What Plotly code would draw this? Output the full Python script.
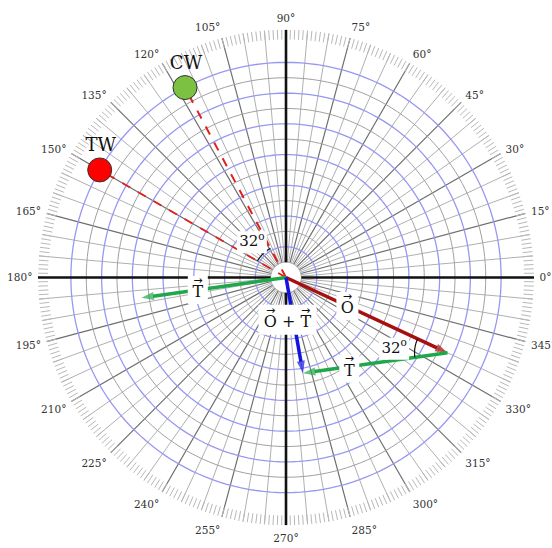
import numpy as np
import plotly.graph_objects as go

# ---------------- data ----------------
vector_names = ["O", "T"]
vector_r = [5.8, 4.75]          # lengths (grid units)
vector_theta = [335, 188]       # directions (degrees)
point_names = ["TW", "CW"]
point_r = [7.0, 7.0]
point_theta = [150, 118]
point_colors = ["#ff0000", "#7cc142"]
angle_text = "32<sup>o</sup>"
tick_angles = list(range(0, 360, 15))
tick_labels = [f"{a}°" for a in tick_angles]

# ---------------- geometry helpers ----------------
R_MAX = 8.07
PX = 248 / R_MAX  # pixels per unit (for label boxes)


def to_xy(r, th):
    t = np.deg2rad(th)
    return r * np.cos(t), r * np.sin(t)


def to_rt(x, y):
    return float(np.hypot(x, y)), float(np.rad2deg(np.arctan2(y, x)) % 360)


fig = go.Figure()


def add_lines(rs, ths, color, width, dash="solid"):
    fig.add_trace(go.Scatterpolar(r=rs, theta=ths, mode="lines",
                                  line=dict(color=color, width=width, dash=dash),
                                  hoverinfo="skip"))


# ---------------- grid ----------------
# minor radial lines every 5 deg
rs, ths = [], []
for a in range(0, 360, 5):
    if a % 15 == 0:
        continue
    rs += [0.5, R_MAX, None]
    ths += [a, a, None]
add_lines(rs, ths, "#b0b0b0", 1)
# major radial lines every 15 deg
rs, ths = [], []
for a in range(0, 360, 15):
    if a % 90 == 0:
        continue
    rs += [0.5, R_MAX, None]
    ths += [a, a, None]
add_lines(rs, ths, "#6e6e6e", 1.2)
# grey half circles
circ = list(range(0, 361, 2))
rs, ths = [], []
for k in np.arange(0.5, 7, 1.0):
    rs += [k] * len(circ) + [None]
    ths += circ + [None]
add_lines(rs, ths, "#a0a0a0", 1)
# blue unit circles
rs, ths = [], []
for k in range(1, 8):
    rs += [k] * len(circ) + [None]
    ths += circ + [None]
add_lines(rs, ths, "#9898f2", 1.3)
# 1-degree tick ring
rs, ths = [], []
for a in range(0, 360, 1):
    rs += [R_MAX - 10 / PX, R_MAX, None]
    ths += [a, a, None]
add_lines(rs, ths, "#b8b8b8", 1)
# black axes
rs, ths = [], []
for a in (0, 90, 180, 270):
    rs += [0.5, R_MAX, None]
    ths += [a, a, None]
add_lines(rs, ths, "#111111", 2.6)

# ---------------- dashed lines to TW / CW ----------------
for r, th in zip(point_r, point_theta):
    add_lines([0, r], [th, th], "#e3201b", 2, "dash")

# angle arc at centre
arc_r = 33 / PX
arc_th = list(np.linspace(min(point_theta), max(point_theta), 30))
add_lines([arc_r] * len(arc_th), arc_th, "#111111", 1.2)

# ---------------- vectors ----------------
ox, oy = to_xy(vector_r[0], vector_theta[0])
tx, ty = to_xy(vector_r[1], vector_theta[1])
sx, sy = ox + tx, oy + ty
s_r, s_th = to_rt(sx, sy)


def arrow(r0, th0, r1, th1, color):
    fig.add_trace(go.Scatterpolar(
        r=[r0, r1], theta=[th0, th1], mode="lines+markers",
        line=dict(color=color, width=3.5),
        marker=dict(symbol="arrow", size=[0, 13], color=color, angleref="previous",
                    line=dict(width=0)),
        hoverinfo="skip"))


arrow(0, vector_theta[0], vector_r[0], vector_theta[0], "#a80f0f")
arrow(0, vector_theta[1], vector_r[1], vector_theta[1], "#1fa84a")
arrow(vector_r[0], vector_theta[0], s_r, s_th, "#1fa84a")
arrow(0, s_th, s_r, s_th, "#1414e0")

# angle arc at O tip, between reversed O and T
tip_angles = np.linspace(vector_theta[0] - 180, vector_theta[1], 30)
arc2 = [to_rt(ox + arc_r * np.cos(np.deg2rad(a)), oy + arc_r * np.sin(np.deg2rad(a))) for a in tip_angles]
add_lines([p[0] for p in arc2], [p[1] for p in arc2], "#111111", 1.2)


# ---------------- labels with white boxes ----------------
def text_at(x, y, text, size, family="DejaVu Serif"):
    cr, ct = to_rt(x, y)
    fig.add_trace(go.Scatterpolar(r=[cr], theta=[ct], mode="text", text=[text],
                                  textposition="middle center",
                                  textfont=dict(family=family, size=size, color="#111"),
                                  hoverinfo="skip"))


def label(cx, cy, text, w_px, h_px, size=16, arrows=()):
    w, h = w_px / PX / 2, h_px / PX / 2
    corners = [(cx - w, cy - h), (cx + w, cy - h), (cx + w, cy + h), (cx - w, cy + h), (cx - w, cy - h)]
    pr = [to_rt(x, y) for x, y in corners]
    fig.add_trace(go.Scatterpolar(r=[p[0] for p in pr], theta=[p[1] for p in pr],
                                  mode="lines", fill="toself", fillcolor="white",
                                  line=dict(width=0, color="rgba(0,0,0,0)"), hoverinfo="skip"))
    dy = -3 / PX if arrows else 0
    text_at(cx, cy + dy, text, size)
    for ax in arrows:
        text_at(cx + ax / PX, cy + 9 / PX, "→", 11, "DejaVu Sans")


# T near centre
label(*to_xy(vector_r[1] * 0.61, vector_theta[1]), "T", 20, 28, arrows=[0])
# O
label(*to_xy(vector_r[0] * 0.38, vector_theta[0]), "O", 22, 28, arrows=[0])
# O + T
lx, ly = to_xy(1.4, s_th)
label(lx - 6 / PX, ly, "O + T", 58, 30, arrows=[-17, 18])
# T at tip
label(ox + 0.68 * tx, oy + 0.68 * ty - 2 / PX, "T", 20, 28, arrows=[0])
# 32 deg near centre
bis = np.mean(point_theta)
label(*to_xy(1.6, bis), angle_text, 30, 22, 15)
# 32 deg at tip
bis2 = (vector_theta[0] - 180 + vector_theta[1]) / 2
bx, by = to_xy(54 / PX, bis2)
label(ox + bx, oy + by - 4 / PX, angle_text, 30, 22, 15)

# ---------------- TW / CW points ----------------
fig.add_trace(go.Scatterpolar(
    r=point_r, theta=point_theta, mode="markers",
    marker=dict(size=24, color=point_colors, line=dict(color="#333", width=1)),
    hoverinfo="skip"))
for name, r, th in zip(point_names, point_r, point_theta):
    px_, py_ = to_xy(r, th)
    text_at(px_ + 1 / PX, py_ + 23 / PX, name, 18)

# ---------------- layout ----------------
W, H = 552, 548
CX, CY, RP = 286, 277.5, 248

fig.update_layout(
    width=W, height=H, margin=dict(l=0, r=0, t=0, b=0),
    paper_bgcolor="white", showlegend=False,
    polar=dict(
        domain=dict(x=[(CX - RP) / W, (CX + RP) / W],
                    y=[(H - CY - RP) / H, (H - CY + RP) / H]),
        bgcolor="white",
        radialaxis=dict(range=[0, R_MAX], visible=False, showgrid=False),
        angularaxis=dict(rotation=0, direction="counterclockwise",
                         tickmode="array", tickvals=tick_angles, ticktext=tick_labels,
                         ticks="outside", ticklen=3, tickwidth=1, tickcolor="rgba(0,0,0,0)",
                         showgrid=False, showline=False,
                         tickfont=dict(family="DejaVu Serif", size=10.5, color="#333")),
    ),
)

fig.write_html("out.html", config={"displayModeBar": False},
               post_script="document.body.style.margin='0px';")
